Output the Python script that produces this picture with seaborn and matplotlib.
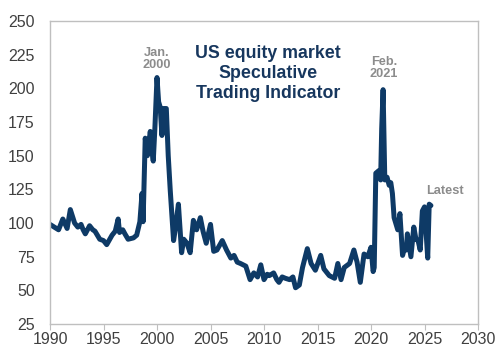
import matplotlib
matplotlib.use("Agg")
import matplotlib.pyplot as plt
import seaborn as sns
import pandas as pd

# --- data (year, indicator level) ---
YEARS = [1990.0, 1990.2, 1990.4, 1990.8, 1991.0, 1991.2, 1991.6, 1991.9, 1992.1, 1992.3,
         1992.6, 1992.9, 1993.1, 1993.3, 1993.7, 1994.0, 1994.2, 1994.65, 1995.0, 1995.3,
         1995.8, 1996.1, 1996.37, 1996.5, 1996.8, 1997.0, 1997.3, 1997.8, 1998.1, 1998.4,
         1998.6, 1998.7, 1998.9, 1999.1, 1999.37, 1999.5, 1999.65, 1999.8, 2000.0, 2000.15,
         2000.3, 2000.46, 2000.6, 2000.87, 2001.05, 2001.24, 2001.55, 2001.7, 2002.0, 2002.3,
         2002.5, 2002.8, 2003.1, 2003.4, 2003.7, 2004.05, 2004.3, 2004.6, 2005.0, 2005.3,
         2005.6, 2006.1, 2006.5, 2006.9, 2007.2, 2007.5, 2007.8, 2008.3, 2008.7, 2009.05,
         2009.4, 2009.7, 2010.0, 2010.3, 2010.5, 2010.9, 2011.2, 2011.4, 2011.7, 2012.0,
         2012.4, 2012.7, 2012.95, 2013.3, 2013.6, 2014.05, 2014.4, 2014.8, 2015.3, 2015.6,
         2016.1, 2016.6, 2016.9, 2017.2, 2017.5, 2018.0, 2018.4, 2018.7, 2019.0, 2019.35,
         2019.7, 2020.0, 2020.2, 2020.3, 2020.45, 2020.75, 2020.9, 2021.0, 2021.13, 2021.29,
         2021.5, 2021.7, 2021.85, 2022.0, 2022.16, 2022.5, 2022.7, 2022.95, 2023.15, 2023.3,
         2023.4, 2023.73, 2024.0, 2024.2, 2024.4, 2024.6, 2024.8, 2025.0, 2025.3, 2025.44,
         2025.6]
VALUES = [99, 98, 97, 95, 99, 103, 96, 110, 105, 100,
          97, 99, 95, 92, 98, 95, 94, 88, 87, 84,
          91, 94, 103, 93, 95, 92, 88, 89, 91, 101,
          122, 101, 163, 150, 168, 155, 146, 170, 208, 190,
          186, 165, 185, 185, 150, 124, 87, 95, 114, 78,
          88, 85, 78, 102, 95, 104, 94, 85, 99, 79,
          80, 87, 80, 74, 76, 71, 70, 68, 58, 63,
          60, 69, 58, 62, 61, 63, 58, 56, 60, 59,
          58, 60, 52, 54, 67, 81, 70, 65, 76, 66,
          61, 59, 70, 58, 67, 70, 80, 71, 56, 77,
          75, 82, 64, 67, 137, 139, 132, 170, 199, 132,
          134, 128, 130, 122, 104, 95, 107, 76, 82, 80,
          92, 75, 97, 88, 87, 80, 109, 112, 74, 114,
          113]

NAVY = "#0E3A66"
TEXT = "#404040"
GREY = "#8C8C8C"

df = pd.DataFrame({"year": YEARS, "value": VALUES})

sns.set_style("white")
plt.rcParams["font.family"] = ["Liberation Sans", "DejaVu Sans"]

fig = plt.figure(figsize=(5.0, 3.55), dpi=100)
ax = fig.add_axes([0.1, 0.087, 0.856, 0.854])

sns.lineplot(data=df, x="year", y="value", color=NAVY, linewidth=3.6, ax=ax)

ax.set_xlim(1990, 2030)
ax.set_ylim(25, 250)
ax.set_xticks(range(1990, 2031, 5))
ax.set_yticks(range(25, 251, 25))
ax.set_xlabel("")
ax.set_ylabel("")

for s in ax.spines.values():
    s.set_color("#BFBFBF")
    s.set_linewidth(1.0)

ax.tick_params(axis="x", direction="out", length=4, color="#BFBFBF", labelsize=11.5,
               labelcolor=TEXT, pad=2, bottom=True)
ax.tick_params(axis="y", length=0, labelsize=11.5, labelcolor=TEXT, pad=11)

# title inside the plot
ax.text(2010.4, 211, "US equity market\nSpeculative\nTrading Indicator", ha="center", va="center",
        fontsize=12.8, fontweight="bold", color="#17375E", linespacing=1.2)

# annotations
ax.text(2000.0, 222, "Jan.\n2000", ha="center", va="center", fontsize=9.2,
        fontweight="bold", color=GREY, linespacing=1.0)
ax.text(2021.2, 215, "Feb.\n2021", ha="center", va="center", fontsize=9.2,
        fontweight="bold", color=GREY, linespacing=1.0)
ax.text(2026.9, 124, "Latest", ha="center", va="center", fontsize=9.2,
        fontweight="bold", color=GREY)

fig.savefig("out.png", dpi=100)
